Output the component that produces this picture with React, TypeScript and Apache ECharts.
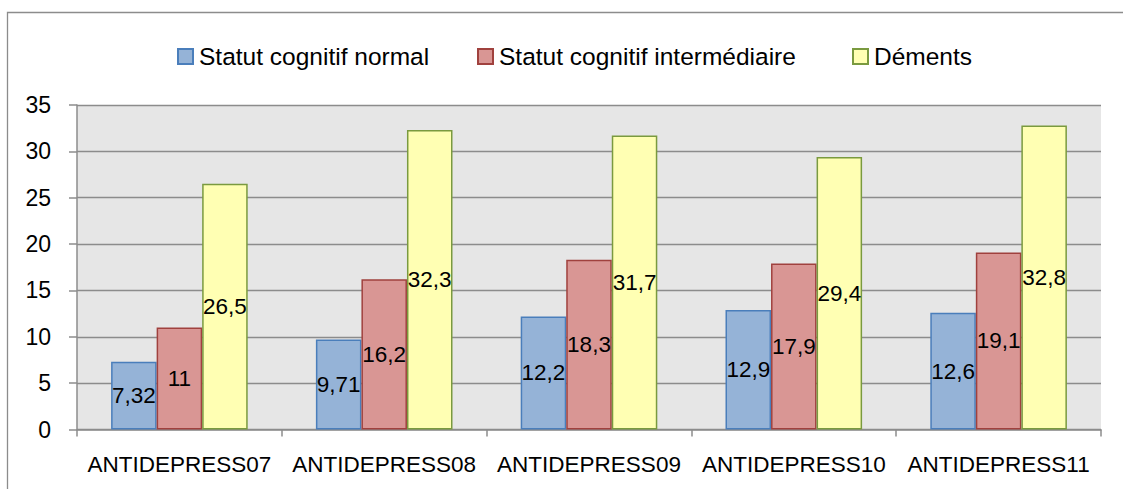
import React, { useEffect, useRef } from "react";
import * as echarts from "echarts";

const categories = ["ANTIDEPRESS07", "ANTIDEPRESS08", "ANTIDEPRESS09", "ANTIDEPRESS10", "ANTIDEPRESS11"];
const seriesNames = ["Statut cognitif normal", "Statut cognitif intermédiaire", "Déments"];
const normalValues = [7.32, 9.71, 12.2, 12.9, 12.6];
const intermediateValues = [11, 16.2, 18.3, 17.9, 19.1];
const dementValues = [26.5, 32.3, 31.7, 29.4, 32.8];

const FONT = "'Liberation Sans', Arial, sans-serif";

export default function App() {
  const ref = useRef<HTMLDivElement>(null);
  useEffect(() => {
    document.body.style.margin = "0";
    const chart = echarts.init(ref.current!, null, { renderer: "svg" });
    const fills = ["#95B3D7", "#D99694", "#FFFFB3"];
    const borders = ["#4A7EBB", "#A0413E", "#7A9A3F"];
    const datas = [normalValues, intermediateValues, dementValues];
    const legendLefts = [177, 477, 852];
    chart.setOption({
      animation: false,
      backgroundColor: "#ffffff",
      textStyle: { fontFamily: FONT },
      legend: seriesNames.map((n, i) => ({
        data: [n],
        left: legendLefts[i],
        top: 44,
        padding: 0,
        itemWidth: 15,
        itemHeight: 15,
        itemGap: 0,
        icon: "rect",
        textStyle: { fontFamily: FONT, fontSize: 24.5, color: "#000", padding: [0, 0, 0, 1] },
      })),
      graphic: [
        {
          type: "rect",
          shape: { x: 7.5, y: 12.5, width: 1300, height: 600 },
          style: { fill: "none", stroke: "#8C8C8C", lineWidth: 1.3 },
          silent: true,
        },
      ],
      grid: {
        left: 77,
        right: 22,
        top: 105,
        bottom: 59.5,
        show: true,
        backgroundColor: "#E6E6E6",
        borderWidth: 0,
        containLabel: false,
      },
      xAxis: {
        type: "category",
        data: categories,
        boundaryGap: true,
        axisLine: { show: true, lineStyle: { color: "#8C8C8C", width: 1.5 } },
        axisTick: { show: true, alignWithLabel: false, length: 7, lineStyle: { color: "#8C8C8C", width: 1.5 } },
        axisLabel: { color: "#000", fontFamily: FONT, fontSize: 22.5, margin: 23, interval: 0 },
        splitLine: { show: false },
      },
      yAxis: {
        type: "value",
        min: 0,
        max: 35,
        interval: 5,
        axisLine: { show: true, lineStyle: { color: "#8C8C8C", width: 1.5 } },
        axisTick: { show: true, length: 8, lineStyle: { color: "#8C8C8C", width: 1.5 } },
        axisLabel: { color: "#000", fontFamily: FONT, fontSize: 23, margin: 26 },
        splitLine: { show: true, lineStyle: { color: "#8C8C8C", width: 1.3 } },
      },
      series: seriesNames.map((n, i) => ({
        name: n,
        type: "bar",
        data: datas[i],
        barGap: "0%",
        barCategoryGap: "33.3%",
        itemStyle: { color: fills[i], borderColor: borders[i], borderWidth: 1.5 },
        label: {
          show: true,
          position: "inside",
          color: "#000",
          fontFamily: FONT,
          fontSize: 22.5,
          formatter: (p: any) => String(p.value).replace(".", ","),
        },
      })),
    });
    return () => chart.dispose();
  }, []);
  return (
    <div
      ref={ref}
      style={{ position: "absolute", left: 0, top: 0, width: 1123, height: 489 }}
    />
  );
}
